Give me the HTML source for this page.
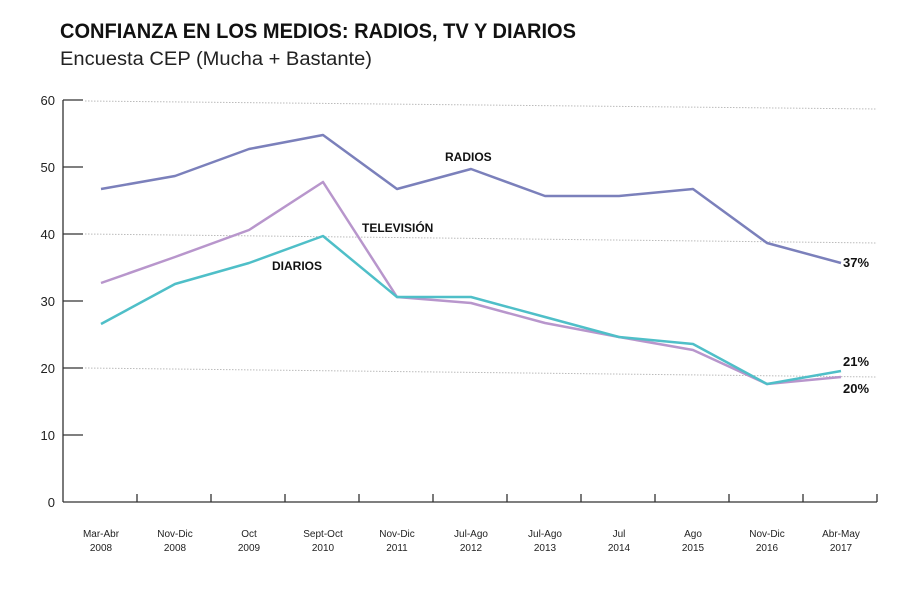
<!DOCTYPE html>
<html><head><meta charset="utf-8"><style>
body{margin:0;background:#fff;width:920px;height:585px;overflow:hidden;font-family:"Liberation Sans",sans-serif}
</style></head><body>
<svg width="920" height="585" xmlns="http://www.w3.org/2000/svg" font-family="Liberation Sans, sans-serif">
<text x="60" y="38" font-size="21" font-weight="bold" fill="#111" textLength="516" lengthAdjust="spacingAndGlyphs">CONFIANZA EN LOS MEDIOS: RADIOS, TV Y DIARIOS</text>
<text x="60" y="65" font-size="19" fill="#222" textLength="312" lengthAdjust="spacingAndGlyphs">Encuesta CEP (Mucha + Bastante)</text>
<g stroke="#bbb" stroke-width="1" stroke-dasharray="1.5,1.5">
<line x1="85" y1="101" x2="877" y2="109"/>
<line x1="85" y1="234" x2="877" y2="243"/>
<line x1="85" y1="368" x2="877" y2="377"/>
</g>
<g stroke="#333" stroke-width="1.3">
<line x1="63" y1="100" x2="63" y2="502"/>
<line x1="63" y1="502" x2="877" y2="502"/>
<line x1="63" y1="100" x2="83" y2="100"/>
<line x1="63" y1="167" x2="83" y2="167"/>
<line x1="63" y1="234" x2="83" y2="234"/>
<line x1="63" y1="301" x2="83" y2="301"/>
<line x1="63" y1="368" x2="83" y2="368"/>
<line x1="63" y1="435" x2="83" y2="435"/>
<line x1="137" y1="494" x2="137" y2="502"/><line x1="211" y1="494" x2="211" y2="502"/>
<line x1="285" y1="494" x2="285" y2="502"/><line x1="359" y1="494" x2="359" y2="502"/>
<line x1="433" y1="494" x2="433" y2="502"/><line x1="507" y1="494" x2="507" y2="502"/>
<line x1="581" y1="494" x2="581" y2="502"/><line x1="655" y1="494" x2="655" y2="502"/>
<line x1="729" y1="494" x2="729" y2="502"/><line x1="803" y1="494" x2="803" y2="502"/>
<line x1="877" y1="494" x2="877" y2="502"/>
</g>
<g font-size="13" fill="#222" text-anchor="end">
<text x="55" y="105">60</text><text x="55" y="172">50</text><text x="55" y="239">40</text>
<text x="55" y="306">30</text><text x="55" y="373">20</text><text x="55" y="440">10</text><text x="55" y="507">0</text>
</g>
<g font-size="10" fill="#222" text-anchor="middle">
<text x="101" y="537">Mar-Abr</text><text x="101" y="551">2008</text>
<text x="175" y="537">Nov-Dic</text><text x="175" y="551">2008</text>
<text x="249" y="537">Oct</text><text x="249" y="551">2009</text>
<text x="323" y="537">Sept-Oct</text><text x="323" y="551">2010</text>
<text x="397" y="537">Nov-Dic</text><text x="397" y="551">2011</text>
<text x="471" y="537">Jul-Ago</text><text x="471" y="551">2012</text>
<text x="545" y="537">Jul-Ago</text><text x="545" y="551">2013</text>
<text x="619" y="537">Jul</text><text x="619" y="551">2014</text>
<text x="693" y="537">Ago</text><text x="693" y="551">2015</text>
<text x="767" y="537">Nov-Dic</text><text x="767" y="551">2016</text>
<text x="841" y="537">Abr-May</text><text x="841" y="551">2017</text>
</g>
<g fill="none" stroke-width="2.5" stroke-linejoin="round">
<polyline stroke="#7b80bb" points="101,189 175,176 249,149 323,135 397,189 471,169 545,196 619,196 693,189 767,243 841,263"/>
<polyline stroke="#b896cc" points="101,283 175,257 249,230 323,182 397,297 471,303 545,323 619,337 693,350 767,384 841,377"/>
<polyline stroke="#4fbfc8" points="101,324 175,284 249,263 323,236 397,297 471,297 545,317 619,337 693,344 767,384 841,371"/>
</g>
<g font-size="12" font-weight="bold" fill="#111">
<text x="445" y="161">RADIOS</text>
<text x="362" y="232">TELEVISIÓN</text>
<text x="272" y="270">DIARIOS</text>
<text x="843" y="267" font-size="13">37%</text>
<text x="843" y="366" font-size="13">21%</text>
<text x="843" y="393" font-size="13">20%</text>
</g>
</svg>
</body></html>
